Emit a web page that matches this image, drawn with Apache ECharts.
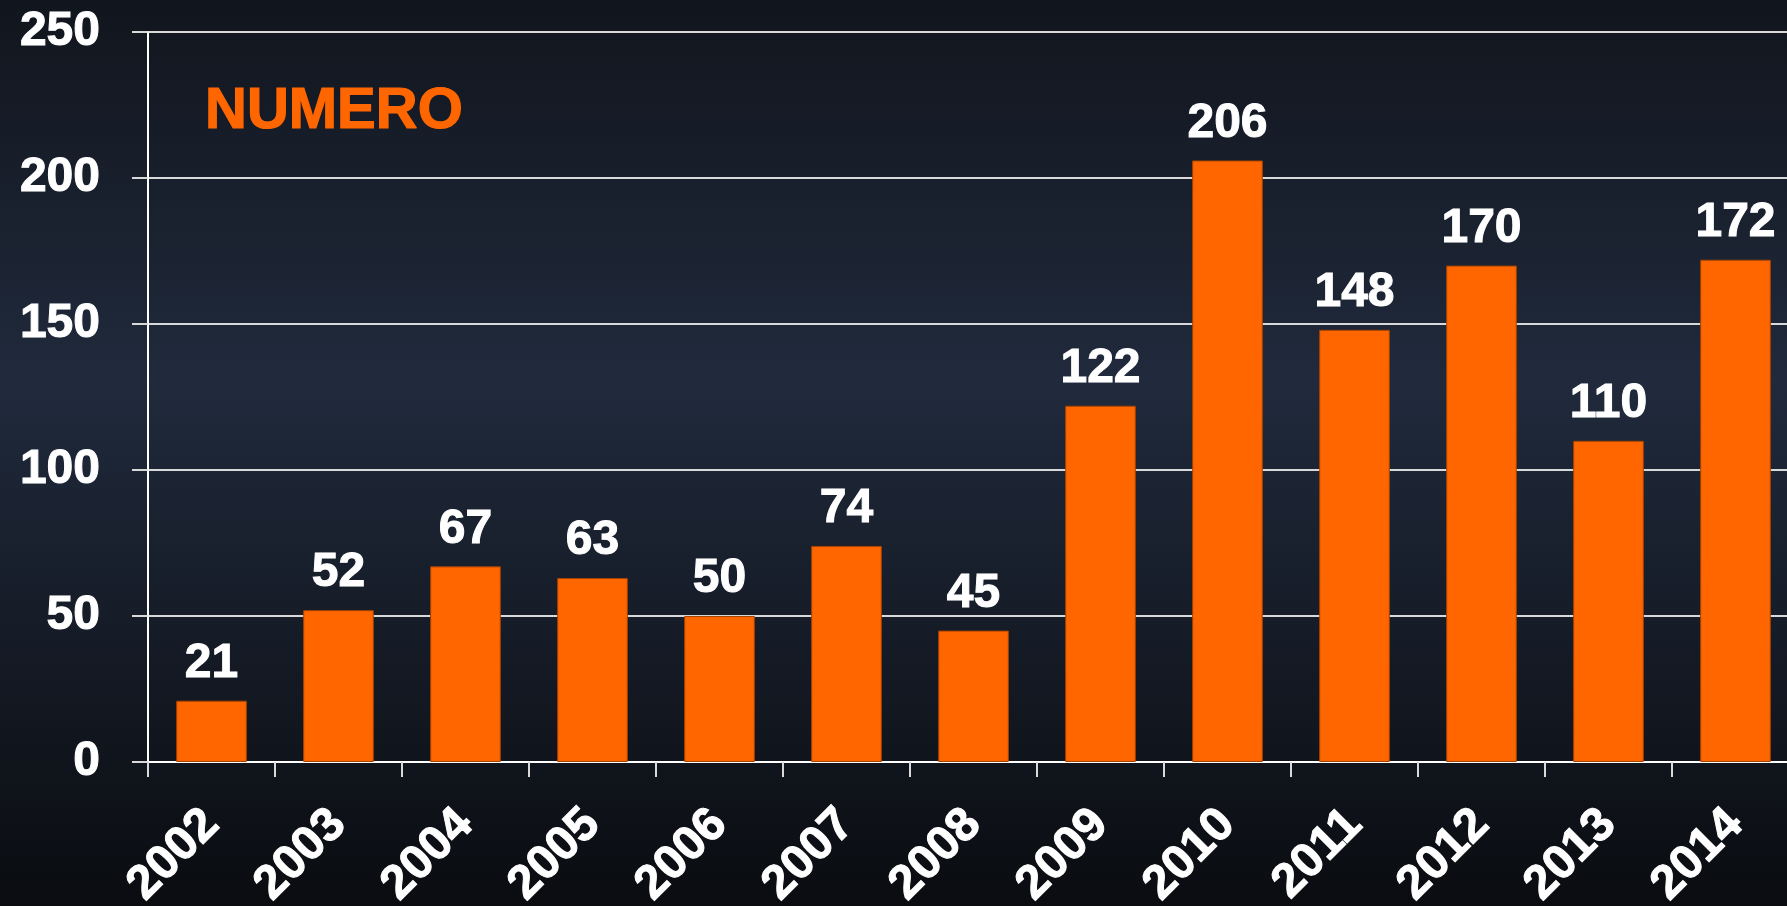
<!DOCTYPE html>
<html>
<head>
<meta charset="utf-8">
<script src="https://cdn.jsdelivr.net/npm/echarts@6/dist/echarts.min.js"></script>
<style>
  html, body { margin: 0; padding: 0; }
  #main { width: 1787px; height: 906px; }
</style>
</head>
<body>
<div id="main"></div>
<script>
  // anni e numero
  var years = ['2002', '2003', '2004', '2005', '2006', '2007', '2008', '2009', '2010', '2011', '2012', '2013', '2014'];
  var numero = [21, 52, 67, 63, 50, 74, 45, 122, 206, 148, 170, 110, 172];
  var yTicks = [0, 50, 100, 150, 200, 250];

  var font = '"Liberation Sans", Arial, Helvetica, sans-serif';
  var myChart = echarts.init(document.getElementById('main'));
  var option = {
    backgroundColor: new echarts.graphic.LinearGradient(0, 0, 0, 1, [
      { offset: 0, color: '#11151d' },
      { offset: 0.42, color: '#202a3c' },
      { offset: 1, color: '#0a0c10' }
    ]),
    title: {
      text: 'NUMERO',
      left: 200,
      top: 78,
      textStyle: {
        color: '#ff6600', fontSize: 58, fontWeight: 'bold', fontFamily: font,
        textBorderColor: '#ff6600', textBorderWidth: 1.2
      }
    },
    // plot runs a bit past the right edge, labels are cut at the bottom
    grid: { left: 148, right: -12, top: 32, bottom: 144, containLabel: false, outerBoundsMode: 'none' },
    xAxis: {
      type: 'category',
      data: years,
      boundaryGap: true,
      axisLine: { lineStyle: { color: '#ffffff', width: 2 } },
      axisTick: { show: true, length: 15, lineStyle: { color: '#d9d9d9', width: 2 } },
      axisLabel: {
        rotate: 45,
        margin: 55,
        padding: [66, 0, 0, 0],
        color: '#ffffff',
        fontSize: 48,
        fontWeight: 'bold',
        fontFamily: font,
        textBorderColor: '#ffffff',
        textBorderWidth: 1,
        interval: 0
      }
    },
    yAxis: {
      type: 'value',
      min: yTicks[0],
      max: yTicks[yTicks.length - 1],
      interval: 50,
      axisLine: { show: true, lineStyle: { color: '#ffffff', width: 2 } },
      axisTick: { show: true, length: 16, lineStyle: { color: '#d9d9d9', width: 2 } },
      splitLine: { lineStyle: { color: '#d9d9d9', width: 2 } },
      axisLabel: {
        margin: 48,
        color: '#ffffff',
        fontSize: 48,
        fontWeight: 'bold',
        fontFamily: font,
        textBorderColor: '#ffffff',
        textBorderWidth: 1
      }
    },
    series: [{
      type: 'bar',
      data: numero,
      barWidth: '55.6%',
      itemStyle: { color: '#ff6600', borderColor: '#a84400', borderWidth: 1 },
      label: {
        show: true,
        position: 'top',
        distance: 13,
        color: '#ffffff',
        fontSize: 48,
        fontWeight: 'bold',
        fontFamily: font,
        textBorderColor: '#ffffff',
        textBorderWidth: 1
      }
    }]
  };
  myChart.setOption(option);
</script>
</body>
</html>
